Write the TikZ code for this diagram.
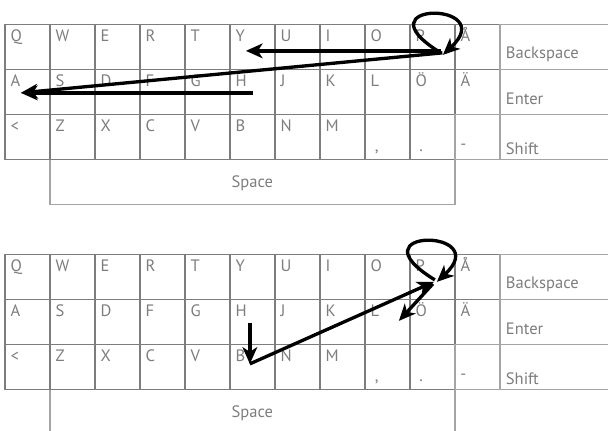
\documentclass[tikz,border=0pt]{standalone}
\usepackage{fontspec}
\setmainfont{PT Sans}
\usetikzlibrary{arrows.meta}
\definecolor{keyline}{RGB}{125,125,125}
\definecolor{keylight}{RGB}{165,165,165}
\definecolor{keytext}{RGB}{125,125,125}
\tikzset{
  key/.style={draw=keyline, line width=1.3pt, anchor=north west, inner sep=0pt,
    minimum width=33.75pt, minimum height=33.75pt},
  lightkey/.style={key, draw=keylight},
  keyfont/.style={inner sep=0pt, text=keytext, font=\fontsize{12.4}{14}\selectfont},
  keylabel/.style={keyfont, anchor=base west, xshift=4.8pt, yshift=-13.5pt},
  lowlabel/.style={keyfont, anchor=base west, yshift=-28.3pt},
  sidelabel/.style={keyfont, anchor=base west, xshift=5pt},
  swipe/.style={line width=2.5pt, -{Stealth[length=12.5pt,width=11pt,inset=3.5pt]}}
}
\begin{document}
\begin{tikzpicture}[x=0.75pt, y=-0.75pt]
\useasboundingbox (0,0) rectangle (608,430);
\clip (0,0) rectangle (608,430);
% two copies of the keyboard
\foreach \kb/\dy in {t/0, b/230} {
\begin{scope}[shift={(0,\dy)}, name prefix=\kb-]
\node[lightkey, minimum width=303.75pt,
  label={[keyfont, anchor=base, yshift=-22.1pt]north:Space}] (space) at (49,158.5) {};
\foreach \lab/\nm [count=\i from 0] in {Q/q,W/w,E/e,R/r,T/t,Y/y,U/u,I/i,O/o,P/p,Å/aa}
  \node[key, label={[keylabel]north west:\lab}] (\nm) at (4+45*\i,23.5) {};
\foreach \lab/\nm [count=\i from 0] in {A/a,S/s,D/d,F/f,G/g,H/h,J/j,K/k,L/l,Ö/oe,Ä/ae}
  \node[key, label={[keylabel]north west:\lab}] (\nm) at (4+45*\i,68.5) {};
\foreach \lab/\nm [count=\i from 0] in {</lt,Z/z,X/x,C/c,V/v,B/b,N/n,M/m}
  \node[key, label={[keylabel]north west:\lab}] (\nm) at (4+45*\i,113.5) {};
\node[key, label={[lowlabel, xshift=7.9pt]north west:{,}}] (comma) at (364,113.5) {};
\node[key, label={[lowlabel, xshift=7.5pt]north west:.}] (dot) at (409,113.5) {};
\node[lightkey, label={[lowlabel, xshift=4.5pt, yshift=1pt]north west:-}] (dash) at (454,113.5) {};
\node[lightkey, minimum width=120pt,
  label={[sidelabel, yshift=-26.6pt]north west:Backspace}] (back) at (499,23.5) {};
\node[lightkey, minimum width=120pt,
  label={[sidelabel, yshift=-27pt]north west:Enter}] (enter) at (499,68.5) {};
\node[lightkey, minimum width=120pt,
  label={[sidelabel, yshift=-30.4pt]north west:Shift}] (shift) at (499,113.5) {};
\end{scope}}
% upper keyboard
\draw[swipe] ([shift={(8.5,6)}]t-p.center) .. controls +(-85,-52) and +(58,-54) .. ([shift={(10.5,8)}]t-p.center);
\draw[swipe] ([shift={(8.5,4)}]t-p.center) -- ([shift={(-6.5,4)}]t-y.center);
\draw[swipe] ([shift={(10,6)}]t-p.center) -- ([shift={(-6.5,1)}]t-a.center);
\draw[swipe] ([shift={(0.5,1)}]t-h.center) -- ([shift={(-6.5,1)}]t-a.center);
% lower keyboard
\draw[swipe] ([shift={(2.5,3)}]b-p.center) .. controls +(-85,-52) and +(58,-54) .. ([shift={(4.5,5)}]b-p.center);
\draw[swipe] ([shift={(-2.5,1)}]b-h.center) -- ([shift={(-2.5,-3)}]b-b.center);
\draw[swipe] ([shift={(-2.5,-3)}]b-b.center) -- ([shift={(1.5,5)}]b-p.center);
\draw[swipe] ([shift={(0.5,7)}]b-p.center) -- ([shift={(11.5,-1)}]b-l.center);
\end{tikzpicture}
\end{document}
